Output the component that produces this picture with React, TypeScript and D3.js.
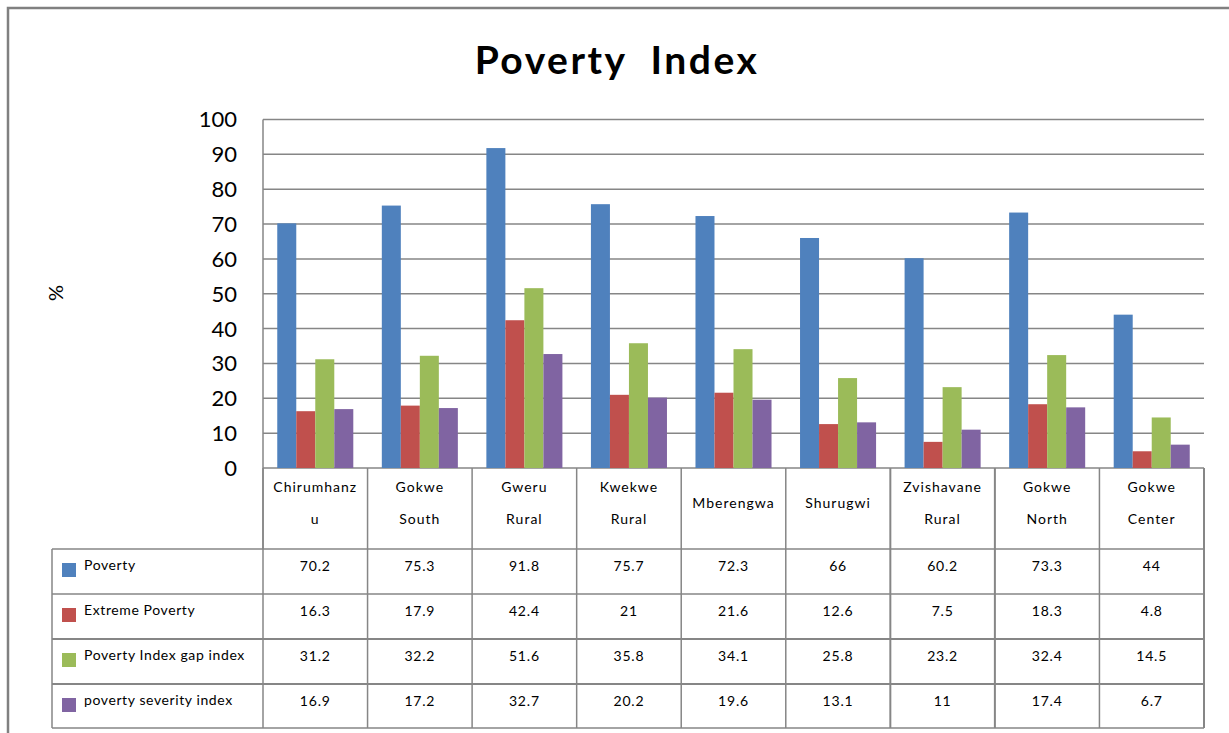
import React from "react";
import * as d3 from "d3";

const categories: string[][] = [
  ["Chirumhanz", "u"],
  ["Gokwe", "South"],
  ["Gweru", "Rural"],
  ["Kwekwe", "Rural"],
  ["Mberengwa"],
  ["Shurugwi"],
  ["Zvishavane", "Rural"],
  ["Gokwe", "North"],
  ["Gokwe", "Center"],
];
const seriesNames = ["Poverty", "Extreme Poverty", "Poverty Index gap index", "poverty severity index"];
const poverty = [70.2, 75.3, 91.8, 75.7, 72.3, 66, 60.2, 73.3, 44];
const extremePoverty = [16.3, 17.9, 42.4, 21, 21.6, 12.6, 7.5, 18.3, 4.8];
const gapIndex = [31.2, 32.2, 51.6, 35.8, 34.1, 25.8, 23.2, 32.4, 14.5];
const severityIndex = [16.9, 17.2, 32.7, 20.2, 19.6, 13.1, 11, 17.4, 6.7];
const yTicks = [0, 10, 20, 30, 40, 50, 60, 70, 80, 90, 100];
const colors = ["#4F81BD", "#C0504D", "#9BBB59", "#8064A2"];

const series = [poverty, extremePoverty, gapIndex, severityIndex];

export default function App() {
  const W = 1229, H = 733;
  const left = 263, right = 1204, top = 119.5, bottom = 468;
  const x = d3.scaleBand<number>().domain(d3.range(categories.length)).range([left, right]).paddingInner(0).paddingOuter(0);
  const inner = d3.scaleBand<number>().domain(d3.range(series.length)).range([0, x.bandwidth()]).paddingOuter(0.75).paddingInner(0);
  const y = d3.scaleLinear().domain([0, 100]).range([bottom, top]);
  const grid = "#868686";
  const font = "Lato, 'Open Sans', sans-serif";

  const headerBottom = 549;
  const rowEdges = [549, 594, 639, 684, 728];
  const tableLeft = 52;

  return (
    <svg width={W} height={H} style={{ position: "absolute", left: 0, top: 0 }} fontFamily={font}>
      <rect x={0} y={0} width={W} height={H} fill="#fff" />
      {/* outer border */}
      <rect x={8} y={8} width={W + 10} height={H + 10} fill="none" stroke="#808080" strokeWidth={2.5} />
      <text x={617} y={74} textAnchor="middle" fontSize={39} letterSpacing={2.5} fontWeight="bold" fill="#000" style={{ whiteSpace: "pre" }} xmlSpace="preserve">
        Poverty  Index
      </text>
      <text transform="translate(63,293) rotate(-90)" textAnchor="middle" fontSize={20} fill="#000">%</text>
      {/* gridlines */}
      {yTicks.map((t) => (
        <g key={t}>
          <line x1={left} x2={right} y1={y(t)} y2={y(t)} stroke={grid} strokeWidth={1.5} />
          <text x={237} y={y(t)} dy="0.36em" textAnchor="end" fontSize={22} fill="#000">{t}</text>
        </g>
      ))}
      {/* y axis */}
      <line x1={left} x2={left} y1={top} y2={headerBottom} stroke={grid} strokeWidth={1.5} />
      {/* bars */}
      {categories.map((_, i) => (
        <g key={i}>
          {series.map((s, j) => (
            <rect key={j} x={(x(i) as number) + (inner(j) as number)} y={y(s[i])} width={inner.bandwidth()} height={bottom - y(s[i])} fill={colors[j]} />
          ))}
        </g>
      ))}
      {/* category dividers */}
      {d3.range(categories.length + 1).map((i) => {
        const xx = i < categories.length ? (x(i) as number) : right;
        return <line key={i} x1={xx} x2={xx} y1={bottom} y2={rowEdges[rowEdges.length - 1]} stroke={grid} strokeWidth={i === 6 || i === 7 || i === 9 ? 2 : 1.5} />;
      })}
      {/* table horizontal lines */}
      {rowEdges.map((r, k) => (
        <line key={r} x1={tableLeft} x2={right} y1={r} y2={r} stroke={grid} strokeWidth={k === 2 || k === 3 ? 2 : 1.5} />
      ))}
      <line x1={tableLeft} x2={tableLeft} y1={headerBottom} y2={728} stroke={grid} strokeWidth={1.5} />
      {/* category labels */}
      {categories.map((c, i) => {
        const cx = (x(i) as number) + x.bandwidth() / 2;
        return c.length === 2 ? (
          <g key={i}>
            <text x={cx} y={487} dy="0.35em" textAnchor="middle" fontSize={14} letterSpacing={1} fill="#000">{c[0]}</text>
            <text x={cx} y={519} dy="0.35em" textAnchor="middle" fontSize={14} letterSpacing={1} fill="#000">{c[1]}</text>
          </g>
        ) : (
          <text key={i} x={cx} y={503} dy="0.35em" textAnchor="middle" fontSize={14} letterSpacing={1} fill="#000">{c[0]}</text>
        );
      })}
      {/* legend rows */}
      {series.map((s, j) => (
        <g key={j}>
          <rect x={62} y={rowEdges[j] + 14} width={14} height={14} fill={colors[j]} />
          <text x={84} y={rowEdges[j] + 16} dy="0.35em" fontSize={14} letterSpacing={0.6} fill="#000">{seriesNames[j]}</text>
          {s.map((v, i) => (
            <text key={i} x={(x(i) as number) + x.bandwidth() / 2} y={rowEdges[j] + 17} dy="0.35em" textAnchor="middle" fontSize={14} letterSpacing={0.8} fill="#000">{String(v)}</text>
          ))}
        </g>
      ))}
    </svg>
  );
}
